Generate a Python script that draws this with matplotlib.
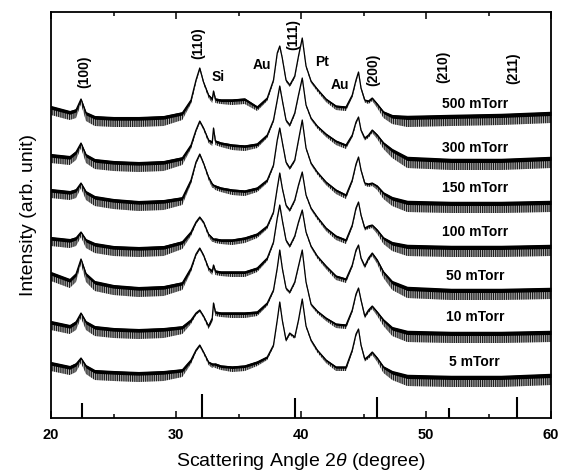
import numpy as np
import matplotlib
matplotlib.use("Agg")
import matplotlib.pyplot as plt

plt.rcParams["font.family"] = ["Liberation Sans", "DejaVu Sans"]
plt.rcParams["mathtext.fontset"] = "custom"
plt.rcParams["mathtext.rm"] = "Liberation Sans"
plt.rcParams["mathtext.it"] = "Liberation Sans:italic"
plt.rcParams["hatch.linewidth"] = 0.6
plt.rcParams["hatch.color"] = "black"

# Scattering angle (2-theta, degrees) at which each pattern is sampled
two_theta = [20.0, 21.5, 22.0, 22.4, 22.8, 23.5, 25.0, 27.0, 29.0, 30.5,
             31.2, 31.6, 31.9, 32.2, 32.6, 32.9, 33.0, 33.15, 33.6, 34.5,
             35.5, 36.5, 37.3, 37.8, 38.1, 38.3, 38.5, 38.8, 39.1, 39.5,
             39.8, 40.1, 40.4, 40.8, 41.3, 42.0, 42.8, 43.6, 44.1, 44.4,
             44.6, 44.8, 45.1, 45.4, 45.7, 46.1, 46.6, 47.3, 48.5, 52.0,
             56.0, 60.0]

# Stacked intensities (arb. unit) for each oxygen pressure
i_500 = [311, 306, 308, 319, 305, 301, 300, 300, 301, 305,
         318, 338, 350, 336, 323, 319, 327, 319, 318, 318,
         319, 311, 320, 338, 365, 372, 360, 338, 333, 342,
         362, 380, 352, 337, 329, 319, 312, 311, 323, 338,
         346, 330, 318, 317, 320, 314, 306, 302, 301, 302,
         303, 305]
i_300 = [263, 261, 266, 275, 263, 258, 256, 255, 256, 260,
         273, 288, 297, 290, 278, 276, 290, 277, 275, 273,
         272, 274, 283, 298, 318, 332, 318, 298, 293, 305,
         323, 340, 313, 300, 292, 284, 277, 273, 283, 296,
         301, 288, 280, 283, 288, 283, 275, 268, 260, 258,
         258, 260]
i_150 = [228, 226, 228, 235, 226, 221, 218, 216, 217, 220,
         238, 256, 264, 255, 241, 234, 233, 232, 230, 228,
         227, 230, 238, 253, 278, 290, 276, 256, 250, 258,
         278, 298, 270, 255, 246, 236, 228, 223, 238, 254,
         261, 248, 235, 234, 235, 232, 225, 220, 216, 215,
         215, 216]
i_100 = [180, 178, 180, 186, 178, 174, 171, 170, 171, 176,
         186, 196, 201, 196, 184, 180, 179, 179, 178, 178,
         180, 184, 192, 206, 230, 245, 230, 213, 208, 218,
         233, 246, 223, 210, 201, 190, 182, 178, 193, 210,
         216, 203, 190, 192, 193, 188, 180, 175, 172, 171,
         171, 172]
i_50 = [145, 138, 144, 159, 144, 136, 132, 130, 131, 135,
        150, 164, 170, 163, 150, 147, 153, 147, 146, 146,
        146, 150, 160, 176, 200, 213, 198, 178, 172, 182,
        196, 208, 186, 172, 162, 152, 142, 139, 153, 168,
        173, 160, 152, 160, 165, 158, 146, 136, 130, 128,
        128, 129]
i_10 = [96, 92, 96, 105, 96, 91, 89, 88, 89, 91,
        98, 105, 108, 102, 92, 100, 115, 106, 105, 105,
        105, 106, 115, 128, 150, 168, 150, 130, 126, 136,
        152, 168, 136, 114, 107, 100, 94, 93, 108, 124,
        130, 118, 102, 108, 112, 106, 98, 90, 86, 85,
        85, 86]
i_5 = [55, 51, 54, 60, 52, 47, 46, 45, 46, 48,
       58, 68, 73, 66, 56, 54, 54, 54, 52, 51,
       52, 56, 61, 73, 98, 116, 98, 78, 85, 81,
       98, 119, 92, 78, 68, 58, 51, 51, 68, 84,
       89, 73, 59, 62, 66, 60, 51, 46, 42, 41,
       41, 43]

# Counting-noise spread around each pattern: half width of the dense core
# and depth of the downward spikes
noise_core = [2.2, 2.2, 2, 1, 2, 2.2, 2.2, 2.2, 2.2, 2,
              1.5, 0.8, 0.6, 0.8, 1, 1.5, 1, 1.5, 1.5, 1.5,
              1.5, 1.5, 1, 0.6, 0.5, 0.5, 0.5, 0.6, 0.6, 0.6,
              0.5, 0.5, 0.5, 0.6, 0.8, 1, 1.2, 1.2, 0.8, 0.6,
              0.5, 0.6, 0.8, 0.8, 0.8, 1.2, 1.6, 2.2, 2.5, 2.5,
              2.5, 2.5]
noise_spike = [8, 8, 8, 5, 8, 9, 9, 9, 9, 7,
               4, 2, 2, 2, 3, 4, 3, 4, 4, 5,
               5, 4, 3, 2, 1.5, 1.5, 1.5, 2, 2, 2,
               1.5, 1.5, 1.5, 2, 2.5, 3, 4, 4, 2.5, 2,
               1.5, 2, 2.5, 3, 3, 4, 6, 8, 10, 10,
               10, 10]

pressures = ["500 mTorr", "300 mTorr", "150 mTorr", "100 mTorr",
             "50 mTorr", "10 mTorr", "5 mTorr"]
patterns = [i_500, i_300, i_150, i_100, i_50, i_10, i_5]
label_levels = [314, 270, 230, 186, 142, 101, 56]

# Reference (perovskite) line positions and relative intensities
ref_angle = [22.5, 32.1, 39.5, 46.05, 51.8, 57.3]
ref_height = [15, 24, 20, 21, 10, 21]

# Reflection annotations: text, angle, height, rotated
peak_text = ["(100)", "(110)", "Si", "Au", "(111)", "Pt", "Au",
             "(200)", "(210)", "(211)"]
peak_angle = [22.7, 31.8, 33.4, 36.9, 39.4, 41.7, 43.1, 45.8, 51.4, 57.0]
peak_level = [346, 375, 341, 353, 383, 356, 333, 348, 351, 350]
peak_rot = [True, True, False, False, True, False, False, True, True, True]

fig = plt.figure(figsize=(5.61, 4.76), dpi=100)
ax = fig.add_axes([51 / 561, 1 - 418 / 476, 500 / 561, 406 / 476])

x = np.array(two_theta)
core = np.array(noise_core)
spike = np.array(noise_spike)
for vals, name, lvl in zip(patterns, pressures, label_levels):
    y = np.array(vals, dtype=float)
    # downward spikes: light grey body with dense vertical strokes
    ax.fill_between(x, y - spike, y, facecolor="0.72", edgecolor="black",
                    hatch="|" * 9, lw=0)
    ax.fill_between(x, y - core, y + core * 0.7, color="black", lw=0)
    ax.plot(x, y, color="black", lw=0.9)
    ax.text(53.9, lvl, name, ha="center", va="center",
            fontsize=10, fontweight="bold")

ax.vlines(ref_angle, 0, ref_height, color="black", lw=1.5)

for t, a, h, r in zip(peak_text, peak_angle, peak_level, peak_rot):
    ax.text(a, h, t, ha="center", va="center", fontsize=10,
            fontweight="bold", rotation=90 if r else 0)

ax.set_xlim(20, 60)
ax.set_ylim(0, 406)
ax.set_xticks([20, 30, 40, 50, 60])
ax.set_xticks([25, 35, 45, 55], minor=True)
ax.set_yticks([])
ax.tick_params(axis="x", which="major", direction="in", length=5,
               width=1.1, top=True, labelsize=10.5, pad=7)
ax.tick_params(axis="x", which="minor", direction="in", length=3,
               width=1.1, top=True)
for lab in ax.get_xticklabels():
    lab.set_fontweight("bold")
for s in ax.spines.values():
    s.set_linewidth(1.3)

ax.set_xlabel("Scattering Angle 2$\\mathit{\\theta}$ (degree)", fontsize=14,
              labelpad=7)
ax.set_ylabel("Intensity (arb. unit)", fontsize=14, labelpad=10)

fig.savefig("out.png", dpi=100)
